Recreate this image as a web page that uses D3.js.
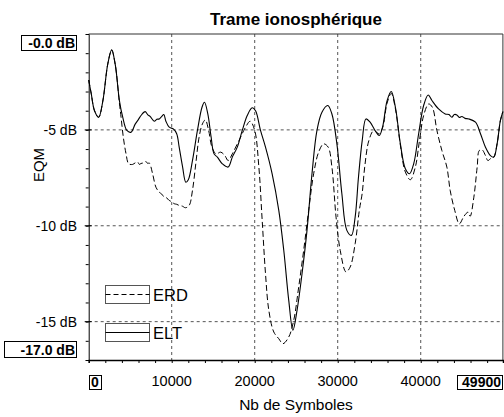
<!DOCTYPE html>
<html>
<head>
<meta charset="utf-8">
<script src="https://cdn.jsdelivr.net/npm/d3@7"></script>
<style>
  html, body { margin: 0; padding: 0; background: #fff; }
  svg { display: block; font-family: "Liberation Sans", Arial, Helvetica, sans-serif; }
</style>
</head>
<body>
<svg id="chart" width="504" height="417"></svg>
<script>
// ---- Data ----
const titleText = "Trame ionosphérique";
const xLabel = "Nb de Symboles";
const yLabel = "EQM";
const seriesNames = ["ERD", "ELT"];
const xTicks = [10000, 20000, 30000, 40000];
const yTicks = [-5, -10, -15];
const xDomain = [0, 49900];
const yDomain = [-17, 0];

const eltSymbols = [0,300,700,1200,1700,2300,2770,3200,3700,4100,4600,5100,5600,6000,6300,6800,7100,7400,7900,8200,8500,8800,9050,9300,9700,10200,10600,10900,11300,11700,12000,12500,13100,13650,13950,14350,14750,15100,15500,16100,16800,17300,17900,18500,19100,19700,20100,20700,21300,22100,22900,23500,24100,24600,25100,25700,26300,26900,27500,28100,28800,29300,29900,30500,31100,31650,32100,32500,32950,33400,33900,34500,35000,35400,35950,36450,36950,37550,38150,38650,39150,39750,40350,40900,41350,42150,42950,43400,43750,44050,44350,44650,44950,45350,45800,46600,47200,47800,48400,48800,49200,49600,49900];
const eltDb = [-2.4,-3.1,-4.0,-4.34,-3.5,-1.56,-0.83,-1.6,-3.47,-4.34,-5.03,-5.12,-4.7,-4.45,-4.25,-4.05,-4.2,-4.3,-4.55,-4.45,-4.43,-4.3,-4.2,-4.55,-4.86,-4.95,-5.2,-5.9,-6.9,-7.73,-7.6,-6.6,-5.03,-3.82,-3.56,-4.17,-5.38,-6.25,-6.42,-6.77,-6.94,-6.42,-5.9,-5.03,-4.25,-3.85,-4.0,-5.03,-5.9,-7.29,-9.2,-11.28,-13.89,-15.45,-14.41,-12.5,-10.24,-7.29,-5.03,-4.08,-3.73,-4.17,-5.73,-8.33,-10.24,-10.5,-9.55,-7.47,-5.56,-4.43,-4.6,-5.03,-5.29,-4.86,-3.47,-3.0,-3.82,-5.73,-7.03,-7.29,-6.77,-5.2,-3.73,-3.18,-3.47,-3.91,-4.17,-4.2,-4.34,-4.2,-4.22,-4.35,-4.3,-4.4,-4.43,-4.6,-5.2,-5.9,-6.34,-6.42,-5.73,-4.51,-4.05];

const erdSymbols = [0,300,700,1200,1700,2300,2770,3200,3700,3900,4170,4500,4820,5300,5600,5900,6100,6300,6600,6900,7100,7300,7700,8100,8500,8800,9100,9400,9700,10000,10300,10600,10900,11300,11650,12100,12500,12900,13300,13700,14050,14450,14850,15350,15900,16400,16800,17300,18100,18900,19450,20000,20500,20900,21300,21700,22300,22900,23400,24100,24700,25300,25900,26500,27100,27700,28300,28850,29300,29800,30300,31000,31500,32100,32600,32950,33250,33750,34350,34950,35400,35950,36450,36950,37550,38150,38750,39350,39850,40350,40950,41400,41950,42550,43150,43550,44100,44650,45200,45700,45950,46400,46800,47050,47400,47800,48100,48600,48800,49200,49600,49900];
const erdDb = [-2.4,-3.1,-4.0,-4.34,-3.5,-1.56,-0.83,-1.6,-3.6,-4.34,-5.38,-6.25,-6.77,-6.8,-6.72,-6.68,-6.8,-6.75,-6.72,-6.65,-6.75,-6.73,-7.29,-7.99,-8.25,-8.35,-8.51,-8.55,-8.68,-8.75,-8.85,-8.88,-8.94,-8.98,-9.06,-8.94,-8.16,-6.77,-5.38,-4.69,-4.48,-5.03,-5.9,-6.25,-6.16,-6.34,-6.6,-6.25,-5.56,-4.86,-4.55,-5.03,-6.94,-9.72,-12.5,-14.41,-15.54,-15.89,-16.15,-15.8,-14.93,-13.19,-11.28,-9.2,-7.29,-6.16,-5.73,-5.9,-6.94,-9.55,-11.28,-12.41,-12.15,-10.94,-9.2,-8.3,-6.94,-5.56,-5.03,-5.2,-4.9,-3.6,-3.1,-3.9,-5.8,-7.2,-7.6,-6.94,-5.56,-4.25,-3.65,-3.82,-5.03,-6.08,-6.94,-8.16,-9.2,-9.9,-9.51,-9.29,-9.51,-8.51,-6.94,-6.08,-6.04,-6.34,-6.6,-6.42,-6.42,-5.73,-4.51,-4.05];

// ---- Layout ----
const svg = d3.select("#chart");
const mLeft = 88.7, mRight = 502.9, mTop = 34, mBottom = 360;
const x = d3.scaleLinear().domain(xDomain).range([mLeft, mRight]);
const y = d3.scaleLinear().domain(yDomain).range([mBottom, mTop]);
const gridColor = "#555";

// grid lines
svg.append("g").selectAll("line").data(xTicks).join("line")
  .attr("x1", d => x(d)).attr("x2", d => x(d))
  .attr("y1", mTop).attr("y2", mBottom)
  .attr("stroke", gridColor).attr("stroke-width", 1)
  .attr("stroke-dasharray", "3,3");
svg.append("g").selectAll("line").data(yTicks).join("line")
  .attr("x1", mLeft).attr("x2", mRight)
  .attr("y1", d => y(d)).attr("y2", d => y(d))
  .attr("stroke", gridColor).attr("stroke-width", 1)
  .attr("stroke-dasharray", "3,3");

// frame top/right
svg.append("line").attr("x1", mLeft).attr("x2", mRight).attr("y1", mTop).attr("y2", mTop)
  .attr("stroke", "#333").attr("stroke-width", 1.2);
svg.append("line").attr("x1", mRight).attr("x2", mRight).attr("y1", mTop).attr("y2", mBottom)
  .attr("stroke", "#333").attr("stroke-width", 1);

// axes with minor ticks
const yMinor = d3.range(yDomain[0], yDomain[1] + 0.5, 1);
const yAxis = d3.axisLeft(y).tickValues(yMinor).tickSize(3).tickFormat("");
svg.append("g").attr("transform", `translate(${mLeft},0)`).call(yAxis)
  .call(g => g.selectAll(".domain").attr("stroke", "#000"))
  .call(g => g.selectAll(".tick line").attr("stroke", "#000"));
const xMinor = d3.range(0, xDomain[1] + 1, 2000);
const xAxis = d3.axisBottom(x).tickValues(xMinor).tickSize(3).tickFormat("");
svg.append("g").attr("transform", `translate(0,${mBottom})`).call(xAxis)
  .call(g => g.selectAll(".domain").attr("stroke", "#000").attr("stroke-width", 1.3))
  .call(g => g.selectAll(".tick line").attr("stroke", "#000"));
// major ticks crossing axis
svg.append("g").selectAll("line").data(yTicks).join("line")
  .attr("x1", mLeft - 4).attr("x2", mLeft + 3)
  .attr("y1", d => y(d)).attr("y2", d => y(d)).attr("stroke", "#000");

// curves
const line = d3.line().curve(d3.curveCatmullRom.alpha(0.5));
const eltPts = eltSymbols.map((s, i) => [x(s), y(eltDb[i])]);
const erdPts = erdSymbols.map((s, i) => [x(s), y(erdDb[i])]);
svg.append("path").attr("d", line(erdPts)).attr("fill", "none")
  .attr("stroke", "#000").attr("stroke-width", 1).attr("stroke-dasharray", "6,3");
svg.append("path").attr("d", line(eltPts)).attr("fill", "none")
  .attr("stroke", "#000").attr("stroke-width", 1.1);

// y tick labels
svg.append("g").selectAll("text").data(yTicks).join("text")
  .attr("x", 77).attr("y", d => y(d) + 5)
  .attr("text-anchor", "end").attr("font-size", 14)
  .text(d => `${d} dB`);
// x tick labels
svg.append("g").selectAll("text").data(xTicks).join("text")
  .attr("x", d => x(d)).attr("y", 386)
  .attr("text-anchor", "middle").attr("font-size", 14.5)
  .text(d => d);

// boxed extreme labels
function boxed(tx, ty, txt, anchor, bx, by, bw, bh) {
  svg.append("rect").attr("x", bx).attr("y", by).attr("width", bw).attr("height", bh)
    .attr("fill", "#fff").attr("stroke", "#000").attr("stroke-width", 1);
  svg.append("text").attr("x", tx).attr("y", ty).attr("text-anchor", anchor)
    .attr("font-size", 14).attr("font-weight", "bold").text(txt);
}
boxed(75, 48, `-${Math.abs(yDomain[1]).toFixed(1)} dB`, "end", 21.5, 35.5, 55, 15);
boxed(75, 355, `${yDomain[0].toFixed(1)} dB`, "end", 4.5, 341.5, 72, 16);
boxed(95, 387, `${xDomain[0]}`, "middle", 89.5, 375.5, 12, 14);
boxed(501, 387, `${xDomain[1]}`, "end", 457.5, 375.5, 45, 14);

// title & axis labels
svg.append("text").attr("x", 296).attr("y", 25).attr("text-anchor", "middle")
  .attr("font-size", 17).attr("font-weight", "bold").text(titleText);
svg.append("text").attr("x", 296).attr("y", 410).attr("text-anchor", "middle")
  .attr("font-size", 15.5).text(xLabel);
svg.append("text").attr("transform", "translate(44,165) rotate(-90)")
  .attr("text-anchor", "middle").attr("font-size", 15).text(yLabel);

// legend
const legendY = [285.5, 323.5];
const dashes = ["5,3", null];
seriesNames.forEach((name, i) => {
  const g = svg.append("g");
  g.append("rect").attr("x", 105.5).attr("y", legendY[i]).attr("width", 44).attr("height", 18)
    .attr("fill", "#fff").attr("stroke", "#555").attr("stroke-width", 1);
  g.append("line").attr("x1", 105.5).attr("x2", 149.5)
    .attr("y1", legendY[i] + 9).attr("y2", legendY[i] + 9)
    .attr("stroke", "#000").attr("stroke-width", 1)
    .attr("stroke-dasharray", dashes[i]);
  g.append("text").attr("x", 153).attr("y", legendY[i] + 15)
    .attr("font-size", 16.5).text(name);
});
</script>
</body>
</html>
